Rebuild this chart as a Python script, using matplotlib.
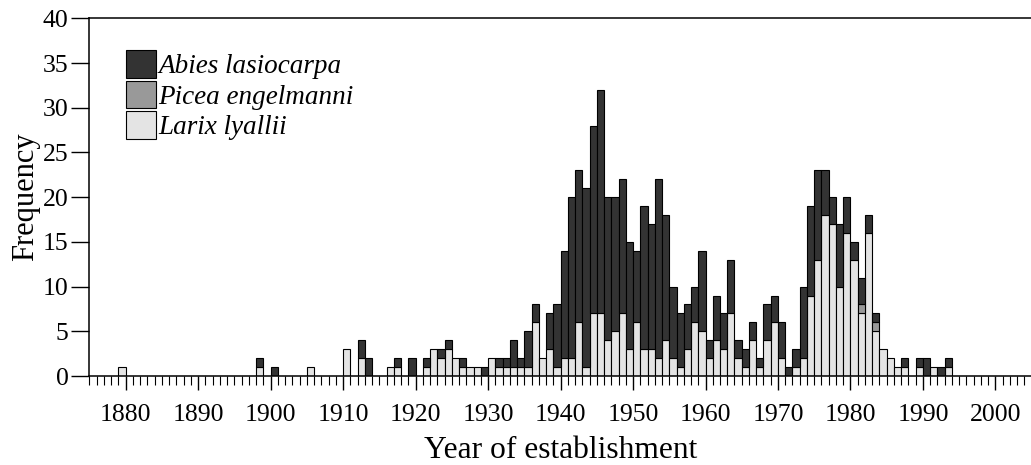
import matplotlib
matplotlib.use("Agg")
import matplotlib.pyplot as plt
import numpy as np
from matplotlib.patches import Patch
from matplotlib.ticker import MultipleLocator

plt.rcParams['font.family'] = ['Liberation Serif', 'DejaVu Serif']

# Establishment year (left edge of each one-year bin) and counts per species
years = [1879, 1898, 1900, 1905, 1910, 1912, 1913, 1916, 1917, 1919,
         1921, 1922, 1923, 1924, 1925, 1926, 1927, 1928, 1929, 1930,
         1931, 1932, 1933, 1934, 1935, 1936, 1937, 1938, 1939, 1940,
         1941, 1942, 1943, 1944, 1945, 1946, 1947, 1948, 1949, 1950,
         1951, 1952, 1953, 1954, 1955, 1956, 1957, 1958, 1959, 1960,
         1961, 1962, 1963, 1964, 1965, 1966, 1967, 1968, 1969, 1970,
         1971, 1972, 1973, 1974, 1975, 1976, 1977, 1978, 1979, 1980,
         1981, 1982, 1983, 1984, 1985, 1986, 1987, 1989, 1990, 1991,
         1992, 1993]
larix = [1, 1, 0, 1, 3, 2, 0, 1, 1, 0,
         1, 3, 2, 3, 2, 1, 1, 1, 0, 2,
         1, 1, 1, 1, 1, 6, 2, 3, 1, 2,
         2, 6, 1, 7, 7, 4, 5, 7, 3, 6,
         3, 3, 2, 4, 2, 1, 3, 6, 5, 2,
         4, 3, 7, 2, 1, 4, 1, 4, 6, 2,
         0, 1, 2, 9, 13, 18, 17, 10, 16, 13,
         7, 16, 5, 3, 2, 1, 1, 1, 0, 1,
         0, 1]
picea = [0] * 70 + [1, 0, 1] + [0] * 9
abies = [0, 1, 1, 0, 0, 2, 2, 0, 1, 2,
         1, 0, 1, 1, 0, 1, 0, 0, 1, 0,
         1, 1, 3, 1, 4, 2, 0, 4, 7, 12,
         18, 17, 20, 21, 25, 16, 15, 15, 12, 8,
         16, 14, 20, 14, 8, 6, 5, 4, 9, 2,
         5, 4, 6, 2, 2, 2, 1, 4, 3, 4,
         1, 2, 8, 10, 10, 5, 3, 7, 4, 2,
         3, 2, 1, 0, 0, 0, 1, 1, 2, 0,
         1, 1]

species = ['Abies lasiocarpa', 'Picea engelmanni', 'Larix lyallii']
colors = ['#333333', '#999999', '#e4e4e4']

x = np.array(years)
larix = np.array(larix)
picea = np.array(picea)
abies = np.array(abies)

fig = plt.figure(figsize=(10.31, 4.65), dpi=100)
ax = fig.add_axes([89.3 / 1031, 89 / 465, (1031 - 89.3) / 1031, (376 - 18.3) / 465])

kw = dict(width=1.0, align='edge', edgecolor='black', linewidth=0.8)
ax.bar(x, larix, color=colors[2], **kw)
m = picea > 0
ax.bar(x[m], picea[m], bottom=larix[m], color=colors[1], **kw)
m = abies > 0
ax.bar(x[m], abies[m], bottom=(larix + picea)[m], color=colors[0], **kw)

ax.set_xlim(1875, 2004.9)
ax.set_ylim(0, 40)
ax.xaxis.set_major_locator(MultipleLocator(10))
ax.xaxis.set_minor_locator(MultipleLocator(1))
ax.yaxis.set_major_locator(MultipleLocator(5))
ax.tick_params(axis='x', which='major', direction='out', length=10, width=1, labelsize=18.5, pad=10.5)
ax.tick_params(axis='x', which='minor', direction='out', length=6.5, width=0.8)
ax.tick_params(axis='y', direction='out', length=13, width=1, labelsize=18.5, pad=2)
ax.spines['right'].set_visible(False)
for s in ['left', 'top', 'bottom']:
    ax.spines[s].set_linewidth(1.1)

ax.set_xlabel('Year of establishment', fontsize=22.7, labelpad=6.5)
ax.set_ylabel('Frequency', fontsize=22, labelpad=2)

handles = [Patch(facecolor=c, edgecolor='black', linewidth=0.8) for c in colors]
ax.legend(handles, species, loc='upper left', bbox_to_anchor=(0.039, 0.911),
          frameon=False, prop={'style': 'italic', 'size': 19.5},
          handlelength=1.1, handleheight=1.2, handletextpad=0.1,
          labelspacing=0.05, borderaxespad=0, borderpad=0)

fig.savefig('out.png', dpi=100)
